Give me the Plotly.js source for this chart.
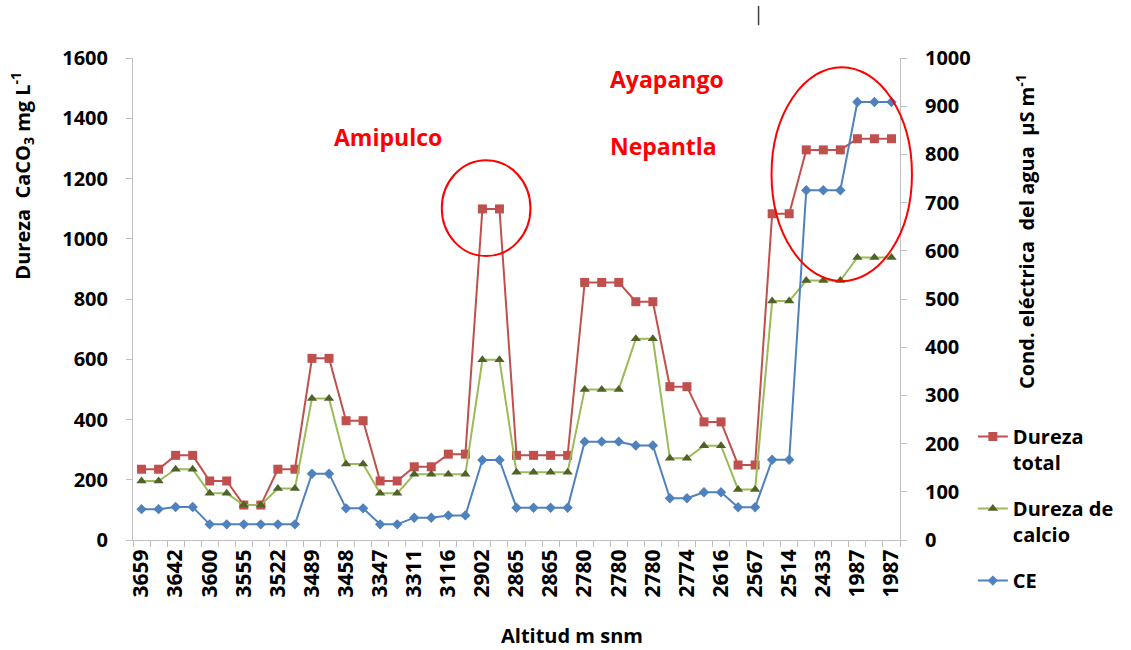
<!DOCTYPE html>
<html>
<head>
<meta charset="utf-8">
<script src="https://cdn.plot.ly/plotly-3.0.1.min.js"></script>
<style>
  html, body { margin: 0; padding: 0; background: #fff; }
  #chart { width: 1131px; height: 650px; }
</style>
</head>
<body>
<div id="chart"></div>
<script>
// Visible x tick labels (every second sample), Altitud m snm
const tickLabels = ["3659","3642","3600","3555","3522","3489","3458","3347","3311","3116","2902",
  "2865","2865","2780","2780","2780","2774","2616","2567","2514","2433","1987","1987"];

// Dureza total (mg L-1 CaCO3) - left axis
const durezaTotal = [235,235,281,281,196,196,116,116,235,235,
  603,603,396,396,196,196,243,243,285,285,
  1099,1099,281,281,281,281,855,855,855,791,
  791,509,509,392,392,249,249,1083,1083,1295,
  1295,1295,1332,1332,1332];

// Dureza de calcio (mg L-1 CaCO3) - left axis
const durezaCalcio = [196,196,235,235,155,155,116,116,171,171,
  470,470,252,252,155,155,218,218,218,218,
  598,598,225,225,225,225,500,500,500,668,
  668,271,271,313,313,168,168,793,793,861,
  861,861,938,938,938];

// CE (µS m-1) - right axis
const ce = [64,64,68.5,68.5,32.5,32.5,32.5,32.5,32.5,32.5,
  137.6,137.6,65.7,65.7,32.5,32.5,46.3,46.3,51,51,
  166,166,67,67,67,67,204,204,204,196,
  196,86.5,86.5,99,99,68,68,166.6,166.6,725.5,
  725.5,725.5,908.7,908.7,908.7];

const seriesNames = ["Dureza<br>total", "Dureza de<br>calcio", "CE"];
const siteLabels = ["Amipulco", "Ayapango", "Nepantla"];

const n = durezaTotal.length;
const xIdx = durezaTotal.map((_, i) => i);
const tickVals = tickLabels.map((_, k) => 2 * k);
const boundaries = [];
for (let i = 0; i <= n; i++) boundaries.push(i - 0.5);

const FONT = "Open Sans, Lato, Liberation Sans, sans-serif";

const traces = [
  {
    x: xIdx, y: durezaTotal, name: seriesNames[0], type: "scatter", mode: "lines+markers",
    line: { color: "#c0504d", width: 2 },
    marker: { symbol: "square", size: 9, color: "#c0504d" },
    legendgroup: "a"
  },
  {
    x: xIdx, y: durezaCalcio, name: seriesNames[1], type: "scatter", mode: "lines+markers",
    line: { color: "#9bbb59", width: 2 },
    marker: { symbol: "triangle-up", size: 9, color: "#4f6228" },
    legendgroup: "b"
  },
  {
    x: xIdx, y: ce, name: seriesNames[2], type: "scatter", mode: "lines+markers", yaxis: "y2",
    line: { color: "#4f81bd", width: 2 },
    marker: { symbol: "diamond", size: 8, color: "#4f81bd" },
    legendgroup: "c"
  }
];

const tickFont = { family: FONT, size: 20, color: "#000", weight: "bold" };

const layout = {
  width: 1131, height: 650,
  margin: { l: 133, r: 228, t: 58, b: 110, pad: 0 },
  paper_bgcolor: "#fff", plot_bgcolor: "#fff",
  font: { family: FONT, color: "#000" },
  showlegend: true,
  legend: {
    x: 1.095, xanchor: "left", y: 0.255, yanchor: "top",
    font: { family: FONT, size: 20, color: "#000", weight: "bold" },
    valign: "top", tracegroupgap: 17, bgcolor: "rgba(0,0,0,0)"
  },
  xaxis: {
    range: [-0.5, n - 0.5],
    tickmode: "array", tickvals: tickVals, ticktext: tickLabels,
    ticks: "", tickangle: -90, tickfont: { family: FONT, size: 21, color: "#000", weight: "bold" },
    showline: true, linecolor: "#bfbfbf", linewidth: 1,
    showgrid: false, zeroline: false,
    minor: { tickmode: "array", tickvals: boundaries, ticks: "outside", ticklen: 6, tickcolor: "#bfbfbf", tickwidth: 1, showgrid: false }
  },
  yaxis: {
    range: [0, 1600], dtick: 200, tick0: 0,
    ticks: "outside", ticklen: 6, tickcolor: "#bfbfbf",
    showline: true, linecolor: "#bfbfbf", linewidth: 1,
    showgrid: false, zeroline: false, tickfont: tickFont, ticklabelstandoff: 14
  },
  yaxis2: {
    range: [0, 1000], dtick: 100, tick0: 0, overlaying: "y", side: "right",
    ticks: "outside", ticklen: 6, tickcolor: "#bfbfbf",
    showline: true, linecolor: "#bfbfbf", linewidth: 1,
    showgrid: false, zeroline: false, tickfont: tickFont, ticklabelstandoff: 14
  },
  annotations: [
    { text: "Dureza  CaCO<sub>3</sub> mg L<sup>-1</sup>", xref: "paper", yref: "paper",
      x: -0.144, y: 0.755, textangle: -90, showarrow: false, xanchor: "center", yanchor: "middle",
      font: { family: FONT, size: 20, color: "#000", weight: "bold" } },
    { text: "Cond. eléctrica  del agua  µS m<sup>-1</sup>", xref: "paper", yref: "paper",
      x: 1.163, y: 0.639, textangle: -90, showarrow: false, xanchor: "center", yanchor: "middle",
      font: { family: FONT, size: 20, color: "#000", weight: "bold" } },
    { text: "Altitud m snm", xref: "paper", yref: "paper",
      x: 0.573, y: -0.199, showarrow: false, xanchor: "center", yanchor: "middle",
      font: { family: FONT, size: 20, color: "#000", weight: "bold" } },
    { text: siteLabels[0], xref: "paper", yref: "paper", x: 0.2597, y: 0.836,
      showarrow: false, xanchor: "left", yanchor: "middle",
      font: { family: FONT, size: 23, color: "#ff0000", weight: "bold" } },
    { text: siteLabels[1], xref: "paper", yref: "paper", x: 0.6195, y: 0.956,
      showarrow: false, xanchor: "left", yanchor: "middle",
      font: { family: FONT, size: 23, color: "#ff0000", weight: "bold" } },
    { text: siteLabels[2], xref: "paper", yref: "paper", x: 0.6195, y: 0.817,
      showarrow: false, xanchor: "left", yanchor: "middle",
      font: { family: FONT, size: 23, color: "#ff0000", weight: "bold" } }
  ],
  shapes: [
    { type: "circle", xref: "paper", yref: "paper", x0: 0.4026, x1: 0.5182, y0: 0.589, y1: 0.788,
      line: { color: "#ff0000", width: 2 }, fillcolor: "rgba(0,0,0,0)" },
    { type: "circle", xref: "paper", yref: "paper", x0: 0.8325, x1: 1.0156, y0: 0.537, y1: 0.981,
      line: { color: "#ff0000", width: 2 }, fillcolor: "rgba(0,0,0,0)" },
    { type: "line", xref: "paper", yref: "paper", x0: 0.8156, x1: 0.8156, y0: 1.068, y1: 1.108,
      line: { color: "#404040", width: 1.5 } }
  ]
};

Plotly.newPlot("chart", traces, layout, { displayModeBar: false, staticPlot: true });
</script>
</body>
</html>
